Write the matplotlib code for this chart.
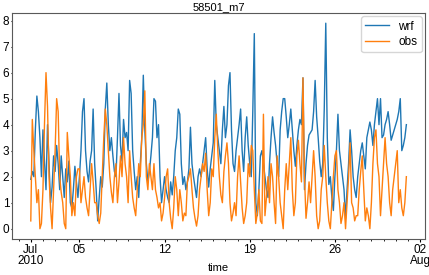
import numpy as np
import pandas as pd
import matplotlib
matplotlib.use("Agg")
import matplotlib.pyplot as plt
import matplotlib.dates as mdates

# 3-hourly values, Jul 1 - Jul 31 2010 (8 per day)
wrf = [
    1.9, 2.2, 2.0, 3.8, 5.1, 4.5, 3.5, 2.0,
    3.8, 2.6, 1.5, 4.0, 2.5, 1.0, 1.6, 2.8,
    2.2, 3.2, 2.5, 1.5, 2.8, 2.0, 1.2, 2.3,
    1.8, 2.6, 1.0, 0.8, 1.5, 2.4, 1.8, 1.2,
    2.0, 3.0, 4.5, 5.0, 3.0, 2.2, 1.8, 2.6,
    3.0, 4.6, 2.5, 1.5, 0.3, 1.2, 2.0, 1.6,
    2.5, 4.6, 5.6, 4.0, 3.0, 3.5, 2.8, 2.2,
    2.0, 3.5, 5.2, 3.2, 2.6, 4.2, 3.5, 3.7,
    3.0, 5.7, 5.2, 3.0, 2.2, 1.5, 2.0, 1.2,
    2.5, 3.5, 5.9, 3.8, 2.5, 1.8, 2.2, 2.8,
    3.5, 5.0, 4.9, 3.5, 4.0, 2.0, 1.0, 1.5,
    2.0, 1.5, 1.2, 1.0, 1.8, 1.3, 2.0, 3.0,
    3.5, 4.6, 4.4, 2.5, 1.7, 2.0, 1.5, 1.8,
    2.3, 3.9, 2.5, 2.0, 1.6, 1.2, 2.0, 2.3,
    2.0, 2.5, 3.0, 3.5, 2.3, 1.6, 2.3, 2.8,
    3.3, 5.7, 4.0, 3.5, 3.0, 2.5, 3.8, 4.7,
    3.5, 4.0, 5.5, 6.0, 3.8, 2.5, 2.2, 3.0,
    3.5, 4.0, 4.6, 3.0, 2.2, 3.5, 4.3, 3.2,
    2.5, 2.0, 4.5, 7.5, 1.0, 0.5, 1.5, 2.8,
    3.0, 2.5, 2.0, 1.5, 1.2, 2.5, 3.5, 4.3,
    3.7, 3.2, 2.5, 2.0, 3.8, 4.5, 5.0, 5.0,
    4.3, 3.5, 4.0, 4.6, 3.8, 3.0, 2.4, 3.2,
    3.8, 4.2, 4.0, 5.8, 1.5, 2.5, 3.2, 3.6,
    3.7, 3.8, 4.5, 5.7, 4.3, 3.5, 2.6, 2.0,
    2.5, 4.6, 7.9, 3.5, 1.7, 2.0, 1.2, 0.7,
    2.0, 3.0, 4.4, 3.0, 2.5, 2.0, 1.5, 0.4,
    1.5, 2.5, 3.8, 3.0, 2.0, 1.5, 1.2, 2.0,
    2.5, 3.0, 3.3, 2.8, 2.3, 3.5, 3.8, 4.1,
    3.8, 3.2, 4.0, 4.5, 5.0, 4.0, 5.0, 3.5,
    3.6, 4.0, 4.2, 4.5, 4.0, 3.4, 3.6, 3.8,
    4.0, 4.2, 4.5, 5.0, 3.0, 3.2, 3.5, 4.0,
]
obs = [
    0.3, 4.2, 3.0, 2.0, 1.0, 1.5, 0.0, 0.2,
    1.5, 4.0, 6.0, 4.7, 2.0, 0.8, 0.0, 1.5,
    3.0, 5.0, 4.5, 2.0, 1.4, 1.0, 0.2, 0.0,
    3.7, 2.8, 2.0, 0.5, 1.0, 0.5, 2.0, 2.3,
    2.3, 1.0, 1.5, 2.0, 1.2, 0.8, 0.5, 1.5,
    2.5, 1.8, 1.0, 1.0, 0.5, 0.2, 0.6, 2.0,
    3.5, 4.6, 4.0, 3.0, 2.0, 1.4, 1.0, 2.0,
    2.5, 1.0, 1.8, 2.8, 2.0, 3.5, 2.5, 2.0,
    1.0, 3.0, 2.0, 1.2, 0.8, 0.5, 1.5, 2.5,
    2.0, 3.5, 4.0, 5.3, 2.0, 1.5, 2.5, 2.0,
    1.5, 2.5, 1.5, 1.2, 0.8, 1.0, 0.3, 0.6,
    1.2, 2.0, 2.3, 1.0, 0.4, 0.0, 0.8, 2.0,
    1.5, 0.5, 1.5, 1.0, 0.3, 0.6, 0.5, 1.8,
    2.0, 2.3, 1.5, 0.8, 0.4, 0.1, 0.5, 1.5,
    2.0, 2.5, 2.2, 2.9, 1.5, 0.5, 1.0, 2.3,
    2.0, 3.5, 4.4, 3.0, 2.0, 1.3, 1.0, 2.2,
    2.8, 3.3, 2.5, 1.0, 0.3, 0.6, 1.0, 0.5,
    2.0, 2.8, 1.8, 0.8, 0.2, 0.5, 1.0, 2.5,
    2.0, 3.2, 3.0, 1.5, 0.2, 0.6, 1.5, 0.3,
    0.2, 4.4, 0.5, 1.2, 2.0, 1.0, 2.5, 2.0,
    1.0, 0.2, 2.8, 2.0, 1.0, 0.5, 0.0, 1.5,
    2.5, 1.5, 2.5, 3.5, 1.5, 0.5, 1.0, 2.8,
    3.4, 2.5, 1.8, 5.8, 2.0, 0.4, 1.0, 1.8,
    1.0, 2.0, 3.0, 2.0, 0.5, 0.0, 0.3, 1.5,
    2.0, 3.2, 2.0, 1.0, 0.3, 0.0, 1.0, 2.0,
    2.8, 3.0, 1.5, 1.0, 0.2, 0.5, 1.0, 0.0,
    1.0, 2.0, 3.3, 1.0, 0.8, 0.3, 0.5, 0.5,
    1.5, 2.2, 2.8, 1.5, 0.3, 0.8, 0.5, 0.0,
    1.0, 2.5, 3.5, 3.8, 2.5, 2.0, 0.5, 1.5,
    2.5, 3.5, 2.5, 2.0, 1.0, 0.5, 1.5, 2.0,
    2.5, 3.0, 1.0, 1.5, 0.8, 0.5, 1.0, 2.0,
]
times = pd.date_range("2010-07-01", periods=len(wrf), freq="3h")

major_days = ["2010-07-01", "2010-07-05", "2010-07-12", "2010-07-19",
              "2010-07-26", "2010-08-02"]
major_labels = ["Jul\n2010", "05", "12", "19", "26", "02\nAug"]

plt.rcParams["font.family"] = ["Liberation Sans", "DejaVu Sans"]
plt.rcParams["font.size"] = 8.5
fig = plt.figure(figsize=(4.29, 2.75), dpi=100)
ax = fig.add_axes([0.028, 0.131, 0.963, 0.822])

ax.plot(times, wrf, color="tab:blue", lw=1.0, label="wrf")
ax.plot(times, obs, color="tab:orange", lw=1.0, label="obs")

ax.set_xticks(pd.to_datetime(major_days))
ax.set_xticklabels(major_labels, linespacing=0.9)
ax.xaxis.set_minor_locator(mdates.DayLocator())
ax.tick_params(axis="x", which="minor", length=1.5, width=0.6)
ax.tick_params(axis="x", which="major", length=2.5, pad=1)
ax.tick_params(axis="y", which="major", length=1, pad=1)
for s in ax.spines.values():
    s.set_color("0.35")
    s.set_linewidth(0.8)

ax.set_title("58501_m7", fontsize=8, pad=2)
ax.set_xlabel("time", fontsize=8, labelpad=-3)
ax.legend(loc="upper right", handlelength=2.0, fontsize=8.5,
          borderaxespad=0.3, borderpad=0.35, labelspacing=0.3)

fig.savefig("out.png", dpi=100)
